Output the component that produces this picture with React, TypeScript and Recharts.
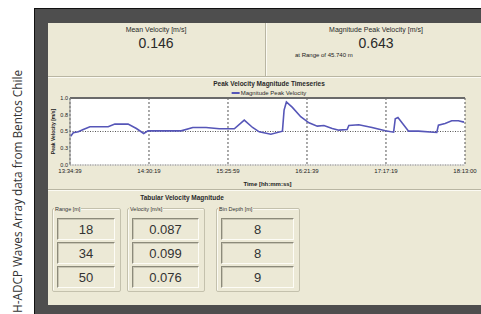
import React from 'react';
import { CartesianGrid, Line, LineChart, ReferenceLine, XAxis, YAxis } from 'recharts';

const times = [
  '13:35:07', '13:36:59', '13:40:30', '13:44:00', '13:48:41', '13:55:42', '14:01:33', '14:06:14',
  '14:15:35', '14:21:26', '14:26:35', '14:29:37', '14:37:48', '14:53:00', '15:01:12', '15:10:33',
  '15:19:54', '15:30:26', '15:37:27', '15:43:18', '15:47:59', '15:56:10', '16:04:21', '16:05:31',
  '16:07:09', '16:11:22', '16:17:13', '16:23:03', '16:28:54', '16:33:35', '16:39:26', '16:44:07',
  '16:49:57', '16:51:08', '16:58:09', '17:07:30', '17:16:51', '17:22:42', '17:23:52', '17:25:45',
  '17:33:14', '17:40:15', '17:53:07', '17:54:17', '17:58:58', '18:03:38', '18:08:19', '18:12:18'
];
const peakVelocity = [
  0.43, 0.48, 0.495, 0.53, 0.57, 0.57, 0.57, 0.61,
  0.61, 0.545, 0.47, 0.51, 0.51, 0.51, 0.56, 0.56,
  0.54, 0.54, 0.67, 0.56, 0.495, 0.46, 0.505, 0.82,
  0.94, 0.86, 0.72, 0.63, 0.58, 0.59, 0.545, 0.52,
  0.53, 0.59, 0.6, 0.56, 0.51, 0.49, 0.69, 0.71,
  0.505, 0.505, 0.485, 0.595, 0.62, 0.66, 0.66, 0.64
];
const timeTicks = ['13:34:39', '14:30:19', '15:25:59', '16:21:39', '17:17:19', '18:13:00'];
const velocityTicks = [0, 0.25, 0.5, 0.75, 1];

const ranges = ['18', '34', '50'];
const velocities = ['0.087', '0.099', '0.076'];
const binDepths = ['8', '8', '9'];

const toSec = (t: string) => {
  const [h, m, s] = t.split(':').map(Number);
  return h * 3600 + m * 60 + s;
};
const fmtTime = (v: number) => {
  const h = Math.floor(v / 3600);
  const m = Math.floor((v % 3600) / 60);
  const s = Math.round(v % 60);
  return [h, m, s].map((n) => String(n).padStart(2, '0')).join(':');
};

const data = times.map((t, i) => ({ t: toSec(t), v: peakVelocity[i] }));

const FONT = '"Liberation Sans", Arial, sans-serif';
const BEIGE = '#ece9d6';

const Txt = ({ x, y, size, bold, children }: any) => (
  <div
    style={{
      position: 'absolute',
      left: x,
      top: y,
      transform: 'translate(-50%, -50%)',
      fontSize: size,
      fontWeight: bold ? 'bold' : 'normal',
      color: '#2a2a2a',
      whiteSpace: 'nowrap',
      fontFamily: FONT,
      lineHeight: 1
    }}
  >
    {children}
  </div>
);

const Etch = ({ x, y, w, h }: any) => (
  <div
    style={{
      position: 'absolute',
      left: x,
      top: y,
      width: w,
      height: h,
      borderTop: h ? undefined : '1px solid #b9b6a3',
      borderBottom: h ? undefined : '1px solid #fbfaf3',
      borderLeft: w ? undefined : '1px solid #b9b6a3',
      borderRight: w ? undefined : '1px solid #fbfaf3'
    }}
  />
);

const Group = ({ x, w, title, values }: { x: number; w: number; title: string; values: string[] }) => (
  <>
    <div
      style={{
        position: 'absolute',
        left: x,
        top: 208,
        width: w,
        height: 82,
        border: '1px solid #c4c1ad',
        boxShadow: 'inset 1px 1px 0 #fbfaf3',
        borderRadius: 2
      }}
    />
    <div
      style={{
        position: 'absolute',
        left: x + 2,
        top: 207,
        fontSize: 5.5,
        color: '#333',
        fontFamily: FONT,
        background: BEIGE,
        padding: '0 1px',
        lineHeight: 1
      }}
    >
      {title}
    </div>
    {values.map((v, i) => (
      <div
        key={i}
        style={{
          position: 'absolute',
          left: x + 5,
          top: 218 + i * 24,
          width: w - 11,
          height: 20,
          borderTop: '1px solid #8c8a7a',
          borderLeft: '1px solid #8c8a7a',
          borderBottom: '1px solid #fdfcf6',
          borderRight: '1px solid #fdfcf6',
          boxShadow: 'inset 1px 1px 0 #c9c6b4',
          fontSize: 13,
          fontFamily: FONT,
          color: '#333',
          display: 'flex',
          alignItems: 'center',
          justifyContent: 'center'
        }}
      >
        {v}
      </div>
    ))}
  </>
);

export default function App() {
  return (
    <div style={{ position: 'absolute', left: 0, top: 0, width: 481, height: 314, background: '#fff', overflow: 'hidden' }}>
      <svg width={30} height={314} style={{ position: 'absolute', left: 0, top: 0 }}>
        <text
          x={-313}
          y={22}
          transform="rotate(-90)"
          fontSize={12}
          fill="#333"
          fontFamily='"Open Sans", sans-serif'
          textLength={243}
          lengthAdjust="spacingAndGlyphs"
        >
          H-ADCP Waves Array data from Bentos Chile
        </text>
      </svg>

      <div
        style={{
          position: 'absolute',
          left: 34,
          top: 8,
          width: 447,
          height: 306,
          background: '#4e4e4e',
          borderTop: '1px solid #111',
          borderLeft: '1px solid #111',
          boxSizing: 'border-box'
        }}
      />
      <div style={{ position: 'absolute', left: 48, top: 23, width: 433, height: 282, background: BEIGE }} />

      <Etch x={265} y={23} w={0} h={53} />
      <Etch x={48} y={76} w={433} h={0} />
      <Etch x={48} y={189} w={433} h={0} />

      <Txt x={156} y={29} size={7}>Mean Velocity [m/s]</Txt>
      <Txt x={156} y={43} size={14}>0.146</Txt>
      <Txt x={376} y={29} size={7}>Magnitude Peak Velocity [m/s]</Txt>
      <Txt x={376} y={43} size={14}>0.643</Txt>
      <div
        style={{ position: 'absolute', left: 295, top: 52, fontSize: 6, fontFamily: FONT, color: '#222', whiteSpace: 'nowrap', lineHeight: 1 }}
      >
        at Range of 45.740 m
      </div>

      <Txt x={269} y={84} size={6.5} bold>Peak Velocity Magnitude Timeseries</Txt>
      <div
        style={{
          position: 'absolute',
          left: 269,
          top: 93,
          transform: 'translate(-50%, -50%)',
          display: 'flex',
          alignItems: 'center',
          fontSize: 6,
          fontFamily: FONT,
          color: '#2a2a2a',
          whiteSpace: 'nowrap',
          lineHeight: 1
        }}
      >
        <span style={{ display: 'inline-block', width: 8, height: 1.5, background: '#5656b8', marginRight: 1 }} />
        Magnitude Peak Velocity
      </div>

      <div style={{ position: 'absolute', left: 49, top: 77 }}>
        <LineChart width={432} height={112} data={data} margin={{ top: 21, right: 16, bottom: 0, left: 0 }}>
          <CartesianGrid fill="#fff" stroke="#555" strokeDasharray="1 1.5" vertical={false} />
          <CartesianGrid stroke="#555" strokeDasharray="2 2" horizontal={false} />
          <XAxis
            dataKey="t"
            type="number"
            domain={[toSec(timeTicks[0]), toSec(timeTicks[timeTicks.length - 1])]}
            ticks={timeTicks.map(toSec)}
            tickFormatter={fmtTime}
            height={24}
            tickLine={false}
            tickSize={3}
            tickMargin={1}
            axisLine={{ stroke: '#cfcfcf' }}
            tick={{ fontSize: 6, fill: '#222', fontFamily: FONT }}
            label={{
              value: 'Time [hh:mm:ss]',
              position: 'insideBottom',
              offset: 3,
              style: { fontSize: 6, fontWeight: 'bold', fill: '#222', fontFamily: FONT }
            }}
          />
          <YAxis
            domain={[0, 1]}
            ticks={velocityTicks}
            tickFormatter={(v: number) => v.toFixed(1)}
            width={21}
            tickLine={false}
            tickSize={1}
            tickMargin={1}
            axisLine={{ stroke: '#888' }}
            tick={{ fontSize: 5.5, fill: '#222', fontFamily: FONT }}
            label={{
              value: 'Peak Velocity [m/s]',
              angle: -90,
              position: 'insideLeft',
              offset: 4,
              style: { fontSize: 5, fontWeight: 'bold', fill: '#222', fontFamily: FONT, textAnchor: 'middle' }
            }}
          />
          <ReferenceLine y={1} stroke="#6a6a6a" strokeWidth={2} />
          <Line
            type="linear"
            dataKey="v"
            stroke="#5656b8"
            strokeWidth={1.6}
            dot={false}
            isAnimationActive={false}
          />
        </LineChart>
      </div>

      <Txt x={182} y={198} size={6.5} bold>Tabular Velocity Magnitude</Txt>
      <Group x={52} w={67} title="Range [m]" values={ranges} />
      <Group x={127} w={76} title="Velocity [m/s]" values={velocities} />
      <Group x={216} w={82} title="Bin Depth [m]" values={binDepths} />
    </div>
  );
}
